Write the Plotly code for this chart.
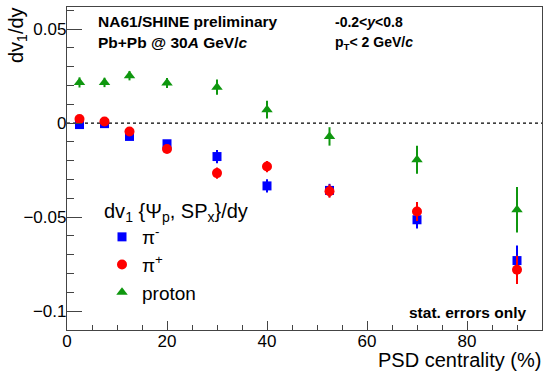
import plotly.graph_objects as go

# Data
centrality = [2.5, 7.5, 12.5, 20, 30, 40, 52.5, 70, 90]

pim_v = [-0.0008, -0.0003, -0.0071, -0.0110, -0.0178, -0.0334, -0.0358, -0.0514, -0.0731]
pim_e = [0.0020, 0.0015, 0.0015, 0.0020, 0.0035, 0.0035, 0.0035, 0.0047, 0.0080]

pip_v = [0.0021, 0.0008, -0.0045, -0.0138, -0.0266, -0.0231, -0.0362, -0.0470, -0.0780]
pip_e = [0.0020, 0.0015, 0.0015, 0.0020, 0.0030, 0.0030, 0.0035, 0.0050, 0.0075]

prot_v = [0.0216, 0.0216, 0.0252, 0.0213, 0.0191, 0.0071, -0.0071, -0.0195, -0.0461]
prot_e = [0.0027, 0.0025, 0.0025, 0.0027, 0.0040, 0.0047, 0.0049, 0.0074, 0.0121]

x_tickvals = [0, 20, 40, 60, 80]
x_ticktext = ["0", "20", "40", "60", "80"]
y_tickvals = [0.05, 0, -0.05, -0.1]
y_ticktext = ["0.05", "0", "\u22120.05", "\u22120.1"]

FONT = "Liberation Sans, Arial, Helvetica, sans-serif"

fig = go.Figure()

def add(name, x, y, e, color, symbol, size):
    fig.add_trace(go.Scatter(
        x=x, y=y, mode="markers", name=name,
        marker=dict(color=color, symbol=symbol, size=size, line=dict(width=0)),
        error_y=dict(type="data", array=e, visible=True, color=color,
                     thickness=2, width=0),
    ))

add("\u03c0<sup>-</sup>", centrality, pim_v, pim_e, "#0000ff", "square", 9)
add("\u03c0<sup>+</sup>", centrality, pip_v, pip_e, "#ff0000", "circle", 10)
add("proton", centrality, prot_v, prot_e, "#0f970f", "triangle-up", 10)

# Dashed zero line
fig.add_shape(type="line", xref="x", yref="y", x0=0, x1=95, y0=0, y1=0,
              line=dict(color="black", width=1.2, dash="3px,3px"), layer="below")

axis_common = dict(showgrid=False, zeroline=False, showline=True,
                   linecolor="#444444", linewidth=1.3, mirror=True,
                   ticks="inside", tickcolor="#444444",
                   tickfont=dict(family=FONT, size=17, color="black"))

fig.update_xaxes(range=[0, 95], tickvals=x_tickvals, ticktext=x_ticktext,
                 ticklen=9, tickwidth=1, ticklabelstandoff=-5,
                 minor=dict(ticks="inside", dtick=5, ticklen=5, tickcolor="#444444", tickwidth=1),
                 **axis_common)
fig.update_yaxes(range=[-0.11, 0.0617], tickvals=y_tickvals, ticktext=y_ticktext,
                 ticklen=15, tickwidth=1, ticklabelstandoff=-4,
                 minor=dict(ticks="inside", tickvals=[round(-0.11 + 0.01 * i, 3) for i in range(1, 18)],
                            ticklen=7, tickcolor="#444444", tickwidth=1),
                 **axis_common)

annots = [
    dict(text="<b>NA61/SHINE preliminary</b>", x=96, y=22, size=15.5),
    dict(text="<b>Pb+Pb @ 30<i>A</i> GeV/<i>c</i></b>", x=96, y=42, size=15.5),
    dict(text="<b>-0.2&lt;<i>y</i>&lt;0.8</b>", x=333, y=22, size=14),
    dict(text="<b>p<sub>T</sub>&lt; 2 GeV/<i>c</i></b>", x=333, y=43, size=14),
]
for a in annots:
    fig.add_annotation(text=a["text"], xref="paper", yref="paper",
                       x=(a["x"] - 67) / 475, y=1 - (a["y"] - 7) / 323,
                       xanchor="left", yanchor="middle", showarrow=False,
                       font=dict(family=FONT, size=a["size"], color="black"))

fig.add_annotation(text="<b>stat. errors only</b>", xref="paper", yref="paper",
                   x=(529 - 67) / 475, y=1 - (312 - 7) / 323,
                   xanchor="right", yanchor="middle", showarrow=False,
                   font=dict(family=FONT, size=15.5, color="black"))

# Axis titles (ROOT style: right/top aligned)
fig.add_annotation(text="PSD centrality (%)", xref="paper", yref="paper",
                   x=1.0 + 1 / 475, y=1 - (359.5 - 7) / 323,
                   xanchor="right", yanchor="middle", showarrow=False,
                   font=dict(family=FONT, size=20, color="black"))
fig.add_annotation(text="dv<sub>1</sub>/dy", xref="paper", yref="paper",
                   x=(18 - 67) / 475, y=1 + 2 / 323, textangle=-90,
                   xanchor="center", yanchor="top", showarrow=False,
                   font=dict(family=FONT, size=20, color="black"))

fig.update_layout(
    width=545, height=371,
    margin=dict(l=67, r=3, t=7, b=41),
    paper_bgcolor="white", plot_bgcolor="white",
    font=dict(family=FONT, color="black"),
    legend=dict(
        title=dict(text="dv<sub>1</sub> {\u03a8<sub>p</sub>, SP<sub>x</sub>}/dy",
                   font=dict(family=FONT, size=20)),
        x=(102 - 67) / 475, y=1 - (192 - 7) / 323,
        xanchor="left", yanchor="top",
        bgcolor="rgba(0,0,0,0)", borderwidth=0,
        font=dict(family=FONT, size=19),
        tracegroupgap=0, itemwidth=30,
    ),
)

fig.write_html("out.html")
